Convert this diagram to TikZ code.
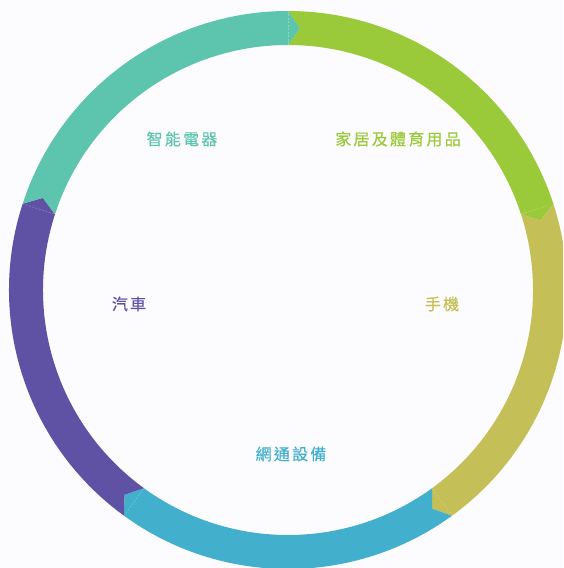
\documentclass[tikz,border=0pt]{standalone}
\usepackage{fontspec}
\newfontfamily\cjk[LetterSpace=14,FakeBold=0.4]{Noto Sans CJK TC}
\definecolor{cteal}{RGB}{93,196,173}
\definecolor{cgreen}{RGB}{154,201,58}
\definecolor{colive}{RGB}{196,191,86}
\definecolor{cblue}{RGB}{66,176,205}
\definecolor{cpurple}{RGB}{95,82,164}
\definecolor{cbg}{RGB}{252,252,254}
\tikzset{
  lbl/.style={font=\cjk\fontsize{16}{18}\selectfont, inner sep=0pt, anchor=center},
  seam/.style={white, opacity=0.3, line width=0.5pt, dash pattern=on 2pt off 1.5pt}
}
\newcommand{\ringseg}[2]{%
  \fill[#2] (#1:279) arc[start angle=#1, end angle=#1-72, radius=279]
    -- (#1-74.6:262) -- (#1-72:245)
    arc[start angle=#1-72, end angle=#1, radius=245]
    -- (#1-2.6:262) -- cycle;}
\begin{document}
\begin{tikzpicture}[x=1pt,y=1pt]
\useasboundingbox (0,0) rectangle (563,-568);
\clip (0,0) rectangle (563,-568);
\fill[cbg] (0,0) rectangle (563,-568);
\begin{scope}[shift={(288,-290)}]
  \ringseg{90}{cgreen}
  \ringseg{18}{colive}
  \ringseg{-54}{cblue}
  \ringseg{-126}{cpurple}
  \ringseg{162}{cteal}
  \foreach \a in {90,18,-54,-126,162} \draw[seam] (\a:246) -- (\a:278);
\end{scope}
\node[lbl, text=cteal] (appl) at (182,-139) {智能電器};
\node[lbl, text=cgreen] (home) at (398,-139) {家居及體育用品};
\node[lbl, text=cpurple] (car) at (129,-304) {汽車};
\node[lbl, text=colive] (phone) at (442,-304) {手機};
\node[lbl, text=cblue] (net) at (291,-454) {網通設備};
\end{tikzpicture}
\end{document}
